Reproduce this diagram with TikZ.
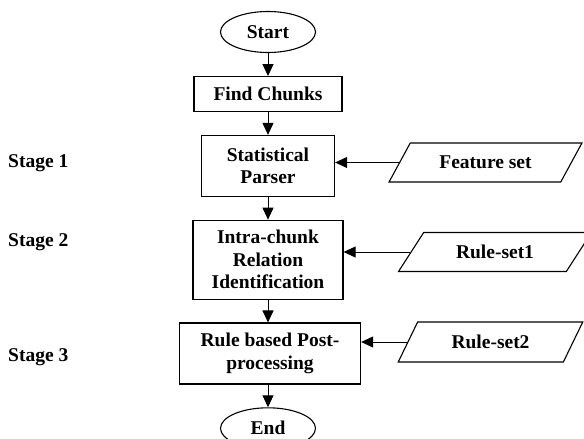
\documentclass[tikz,border=0pt]{standalone}
\usepackage{fontspec}
\setmainfont{Liberation Serif}
\usetikzlibrary{positioning, shapes.geometric, arrows.meta}
\tikzset{
  flow txt/.style={font=\bfseries\fontsize{19.5}{22.5}\selectfont, align=center, inner sep=0},
  flow box/.style={flow txt, draw, line width=1.3pt, rectangle},
  flow term/.style={flow txt, draw, line width=1.1pt, ellipse, minimum width=95pt, minimum height=41pt},
  flow data/.style={flow txt, draw, line width=1.1pt, trapezium, trapezium stretches=true,
    trapezium left angle=45, trapezium right angle=135, minimum width=193pt, minimum height=39pt},
  flow arrow/.style={line width=1pt, -{Triangle[length=12pt,width=11pt]}},
  lbl stage/.style={font=\bfseries\fontsize{19.5}{22}\selectfont, inner sep=0, anchor=west}
}

\begin{document}
\begin{tikzpicture}[x=1pt, y=1pt, node distance=22.5pt]
\useasboundingbox (0,0) rectangle (584,-439);

% main column
\node[flow term] at (268,-32) (start) {Start};
\node[flow box, below=23pt of start, minimum width=148pt, minimum height=35pt] (find) {Find Chunks};
\node[flow box, below=of find, minimum width=133pt, minimum height=61pt] (parser) {Statistical\\Parser};
\node[flow box, below=of parser, minimum width=150pt, minimum height=79pt] (intra) {Intra-chunk\\Relation\\Identification};
\node[flow box, below=of intra, minimum width=181pt, minimum height=61pt, xshift=2pt] (post) {Rule based Post-\\processing};
\node[flow term, below=of post, xshift=-2pt] (stop) {End};

% inputs on the right
\node[flow data] at (485.5,-162.5) (fs) {Feature set};
\node[flow data] at (495,-252) (rs1) {Rule-set1};
\node[flow data, trapezium left angle=53, trapezium right angle=127, minimum width=185pt, minimum height=40pt] at (490.5,-342) (rs2) {Rule-set2};

% stage labels
\node[lbl stage] at (8,-163) (s1) {Stage 1};
\node[lbl stage] at (8,-242) (s2) {Stage 2};
\node[lbl stage] at (8,-357) (s3) {Stage 3};

\draw[flow arrow] (start) -- (find);
\draw[flow arrow] (find) -- (parser);
\draw[flow arrow] (parser) -- (intra);
\draw[flow arrow] (intra.south) -- (intra.south |- post.north);
\draw[flow arrow] (post.south -| stop.north) -- (stop);

\draw[flow arrow] (fs.west) -- (fs.west -| parser.east);
\draw[flow arrow] (rs1.west) -- (rs1.west -| intra.east);
\draw[flow arrow] (rs2.west) -- (rs2.west -| post.east);

\end{tikzpicture}
\end{document}
